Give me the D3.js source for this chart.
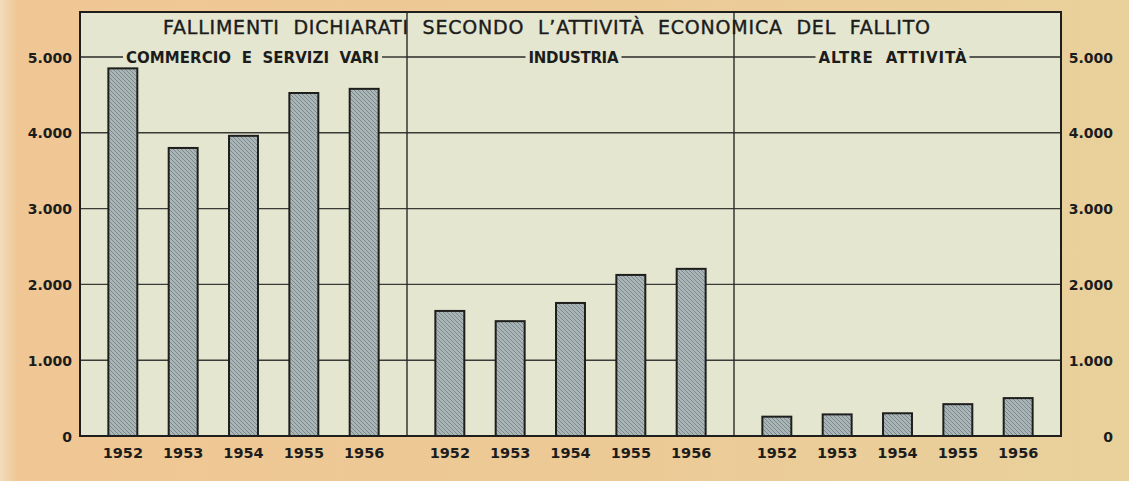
<!DOCTYPE html>
<html>
<head>
<meta charset="utf-8">
<script src="https://cdn.jsdelivr.net/npm/d3@7"></script>
<style>
    html, body { margin: 0; padding: 0; background: #ecca9a; }
    svg { display: block; }
    text { white-space: pre; }
    .axis-label, .year-label, .panel-title { font-family: 'DejaVu Sans', sans-serif; font-weight: bold; fill: #1c1c1c; }
    .chart-title { font-family: 'DejaVu Sans', sans-serif; fill: #1c1c1c; stroke: #1c1c1c; stroke-width: 0.4; }
</style>
</head>
<body>
<div id="chart"></div>
<script>
// values (number of bankruptcies)
const years = ['1952', '1953', '1954', '1955', '1956'];
const sectors = ['COMMERCIO  E  SERVIZI  VARI', 'INDUSTRIA', 'ALTRE  ATTIVITÀ'];
const commercio = [4850, 3800, 3960, 4525, 4580];
const industria = [1650, 1515, 1755, 2125, 2205];
const altre = [255, 285, 300, 420, 500];
const yTicks = [0, 1000, 2000, 3000, 4000, 5000];
const yTickLabels = ['0', '1.000', '2.000', '3.000', '4.000', '5.000'];
const title = 'FALLIMENTI  DICHIARATI  SECONDO  L\u2019ATTIVITÀ  ECONOMICA  DEL  FALLITO';

const series = [commercio, industria, altre];

const width = 1129;
const height = 481;
const frame = {left: 80, right: 1061, top: 12, bottom: 436};

let svg, xPanel, xYear, yScale;

function buildScales() {
    xPanel = d3.scaleBand()
        .domain(sectors)
        .range([frame.left, frame.right]);

    xYear = d3.scaleBand()
        .domain(years)
        .range([0, xPanel.bandwidth()])
        .paddingInner(0.52)
        .paddingOuter(0.47);

    yScale = d3.scaleLinear()
        .domain([0, 5000])
        .range([frame.bottom, 57]);
}

function buildSVG() {
    svg = d3.select('#chart')
        .append('svg')
        .attr('width', width)
        .attr('height', height);

    const defs = svg.append('defs');

    const grad = defs.append('linearGradient')
        .attr('id', 'paper')
        .attr('x1', 0).attr('x2', 1).attr('y1', 0).attr('y2', 0);
    grad.append('stop').attr('offset', 0).attr('stop-color', '#f1dcbd');
    grad.append('stop').attr('offset', 0.015).attr('stop-color', '#f0c794');
    grad.append('stop').attr('offset', 0.5).attr('stop-color', '#ecc995');
    grad.append('stop').attr('offset', 1).attr('stop-color', '#e9d19c');

    const hatch = defs.append('pattern')
        .attr('id', 'hatch')
        .attr('patternUnits', 'userSpaceOnUse')
        .attr('width', 4)
        .attr('height', 4);
    hatch.append('rect')
        .attr('width', 4).attr('height', 4)
        .attr('fill', '#aab5b6');
    hatch.append('path')
        .attr('d', 'M-1,-1L5,5M-1,3L1,5M3,-1L5,1')
        .attr('stroke', '#76838a')
        .attr('stroke-width', 0.9);

    svg.append('rect')
        .attr('width', width)
        .attr('height', height)
        .attr('fill', 'url(#paper)');

    svg.append('rect')
        .attr('x', frame.left)
        .attr('y', frame.top)
        .attr('width', frame.right - frame.left)
        .attr('height', frame.bottom - frame.top)
        .attr('fill', '#e4e6d0');
}

function drawGrid() {
    svg.append('g')
        .classed('grid', true)
      .selectAll('line')
      .data(yTicks.filter(d => d > 0 && d < 5000))
      .join('line')
        .attr('x1', frame.left)
        .attr('x2', frame.right)
        .attr('y1', d => yScale(d))
        .attr('y2', d => yScale(d))
        .attr('stroke', '#3a3a36')
        .attr('stroke-width', 1.4);

    // panel dividers
    svg.append('g')
      .selectAll('line')
      .data(sectors.slice(1))
      .join('line')
        .attr('x1', d => xPanel(d))
        .attr('x2', d => xPanel(d))
        .attr('y1', frame.top)
        .attr('y2', frame.bottom)
        .attr('stroke', '#2a2a28')
        .attr('stroke-width', 1.4);
}

function drawPanelTitles() {
    const panelTitleWidths = [253, 90, 148];
    const g = svg.append('g').classed('panel-titles', true);
    const y5 = yScale(5000);

    // header line at 5.000 broken by the panel names
    sectors.forEach((s, i) => {
        const cx = xPanel(s) + xPanel.bandwidth() / 2 + [9, 3, -5][i];
        const w = panelTitleWidths[i];
        const x0 = xPanel(s);
        const x1 = x0 + xPanel.bandwidth();
        g.append('line')
            .attr('x1', x0).attr('x2', cx - w / 2 - 3)
            .attr('y1', y5).attr('y2', y5)
            .attr('stroke', '#2a2a28').attr('stroke-width', 1.4);
        g.append('line')
            .attr('x1', cx + w / 2 + 3).attr('x2', x1)
            .attr('y1', y5).attr('y2', y5)
            .attr('stroke', '#2a2a28').attr('stroke-width', 1.4);
        g.append('text')
            .attr('class', 'panel-title')
            .attr('x', cx - w / 2)
            .attr('y', y5 + 5.5)
            .attr('textLength', w)
            .attr('lengthAdjust', 'spacing')
            .style('font-size', '15px')
            .text(s);
    });

    svg.append('text')
        .attr('class', 'chart-title')
        .attr('x', 163)
        .attr('y', 34)
        .attr('textLength', 767)
        .attr('lengthAdjust', 'spacing')
        .style('font-size', '19px')
        .text(title);
}

function drawBars() {
    sectors.forEach((s, i) => {
        const g = svg.append('g')
            .attr('transform', `translate(${xPanel(s)},0)`);

        g.selectAll('rect')
          .data(series[i])
          .join('rect')
            .attr('x', (d, j) => xYear(years[j]))
            .attr('y', d => yScale(d))
            .attr('width', xYear.bandwidth())
            .attr('height', d => yScale(0) - yScale(d))
            .attr('fill', 'url(#hatch)')
            .attr('stroke', '#1e1e1c')
            .attr('stroke-width', 2);

        g.selectAll('text')
          .data(years)
          .join('text')
            .attr('class', 'year-label')
            .attr('x', d => xYear(d) + xYear.bandwidth() / 2)
            .attr('y', 458)
            .attr('text-anchor', 'middle')
            .style('font-size', '14.5px')
            .text(d => d);
    });
}

function drawFrame() {
    svg.append('rect')
        .attr('x', frame.left)
        .attr('y', frame.top)
        .attr('width', frame.right - frame.left)
        .attr('height', frame.bottom - frame.top)
        .attr('fill', 'none')
        .attr('stroke', '#1e1e1c')
        .attr('stroke-width', 2);
}

function drawAxes() {
    const left = d3.axisLeft(yScale)
        .tickValues(yTicks)
        .tickFormat((d, i) => yTickLabels[i])
        .tickSize(0)
        .tickPadding(8);
    const right = d3.axisRight(yScale)
        .tickValues(yTicks)
        .tickFormat((d, i) => yTickLabels[i])
        .tickSize(0)
        .tickPadding(0);

    const gl = svg.append('g')
        .attr('transform', `translate(${frame.left},0)`)
        .call(left);
    const gr = svg.append('g')
        .attr('transform', 'translate(1113,0)')
        .call(right);

    [gl, gr].forEach(g => {
        g.select('.domain').remove();
        g.selectAll('text')
            .attr('class', 'axis-label')
            .attr('fill', null)
            .style('font-size', '14px')
            .attr('font-family', null)
            .attr('dy', '0.36em');
    });
    gr.selectAll('text').attr('text-anchor', 'end');
}

buildScales();
buildSVG();
drawGrid();
drawBars();
drawPanelTitles();
drawFrame();
drawAxes();
</script>
</body>
</html>
